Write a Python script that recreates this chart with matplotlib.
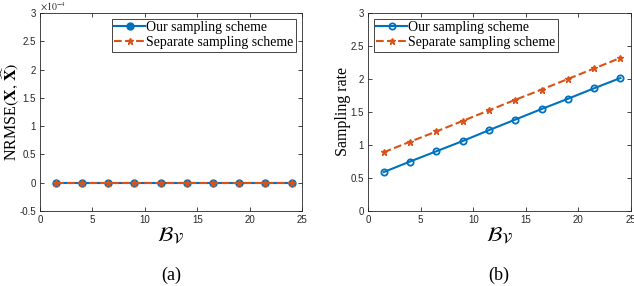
import numpy as np
import matplotlib
matplotlib.use('Agg')
import matplotlib.pyplot as plt

plt.rcParams['mathtext.fontset'] = 'stix'
plt.rcParams['font.family'] = 'Liberation Serif'

# data
bv = [1.5, 4, 6.5, 9, 11.5, 14, 16.5, 19, 21.5, 24]
nrmse_ours = [0, 0, 0, 0, 0, 0, 0, 0, 0, 0]
nrmse_sep = [0, 0, 0, 0, 0, 0, 0, 0, 0, 0]
rate_ours = [0.59, 0.75, 0.905, 1.06, 1.225, 1.385, 1.545, 1.70, 1.86, 2.015]
rate_sep = [0.89, 1.05, 1.205, 1.365, 1.525, 1.685, 1.84, 2.0, 2.16, 2.32]

xticks = [0, 5, 10, 15, 20, 25]
yticks_a = [-0.5, 0, 0.5, 1, 1.5, 2, 2.5, 3]
ylabels_a = ['-0.5', '0', '0.5', '1', '1.5', '2', '2.5', '3']
yticks_b = [0, 0.5, 1, 1.5, 2, 2.5, 3]
ylabels_b = ['0', '0.5', '1', '1.5', '2', '2.5', '3']

blue = '#0072BD'
orange = '#D95319'

fig = plt.figure(figsize=(6.34, 2.86), dpi=100)
ax1 = fig.add_axes([40/634, 1 - 211/286, 262/634, 198/286])
ax2 = fig.add_axes([368/634, 1 - 211/286, 263/634, 198/286])

def style(ax):
    ax.set_xlim(0, 25)
    ax.set_xticks(xticks)
    ax.set_xticklabels([str(t) for t in xticks], family='Liberation Sans')
    ax.tick_params(direction='in', top=True, right=True, labelsize=7,
                   length=3, width=0.6, colors='#262626', pad=3)
    for s in ax.spines.values():
        s.set_linewidth(0.6)
        s.set_color('#262626')
    ax.set_xlabel(r'$\mathcal{B}_{\mathcal{V}}$', fontsize=15, labelpad=0)

# (a)
ax1.plot(bv, np.array(nrmse_ours) * 1e-4, '-o', color=blue, lw=1.5, ms=5,
         mfc=blue, mec=blue, label='Our sampling scheme')
ax1.plot(bv, np.array(nrmse_sep) * 1e-4, '--*', color=orange, lw=1.5, ms=5,
         label='Separate sampling scheme')
ax1.set_ylim(-0.5e-4, 3e-4)
ax1.set_yticks(np.array(yticks_a) * 1e-4)
ax1.set_yticklabels(ylabels_a, family='Liberation Sans')
style(ax1)
ax1.text(0.0, 1.0, r'$\times 10^{-4}$', transform=ax1.transAxes, fontsize=7,
         color='#262626', ha='left', va='bottom', family='Liberation Sans')
ax1.set_ylabel(r'NRMSE$(\mathbf{X},\,\widehat{\mathbf{X}})$', fontsize=11.5)
ax1.yaxis.set_label_coords(-0.072, 0.5)
ax1.legend(loc='upper right', fontsize=10, handlelength=2.2, handletextpad=0.1,
           borderpad=0.2, labelspacing=0.1, fancybox=False, edgecolor='#262626',
           borderaxespad=0.4, framealpha=1).get_frame().set_linewidth(0.6)
fig.text(171/634, 1 - 275/286, '(a)', ha='center', va='center', fontsize=13)

# (b)
ax2.plot(bv, rate_ours, '-o', color=blue, lw=1.5, ms=4.5, mfc='none', mew=1.3,
         label='Our sampling scheme')
ax2.plot(bv, rate_sep, '--*', color=orange, lw=1.5, ms=4.5,
         label='Separate sampling scheme')
ax2.set_ylim(0, 3)
ax2.set_yticks(yticks_b)
ax2.set_yticklabels(ylabels_b, family='Liberation Sans')
style(ax2)
ax2.set_ylabel('Sampling rate', fontsize=11.5)
ax2.yaxis.set_label_coords(-0.065, 0.5)
ax2.legend(loc='upper left', fontsize=10, handlelength=2.2, handletextpad=0.1,
           borderpad=0.2, labelspacing=0.1, fancybox=False, edgecolor='#262626',
           borderaxespad=0.4, framealpha=1).get_frame().set_linewidth(0.6)
fig.text(499/634, 1 - 275/286, '(b)', ha='center', va='center', fontsize=13)

fig.savefig('out.png', dpi=100)
